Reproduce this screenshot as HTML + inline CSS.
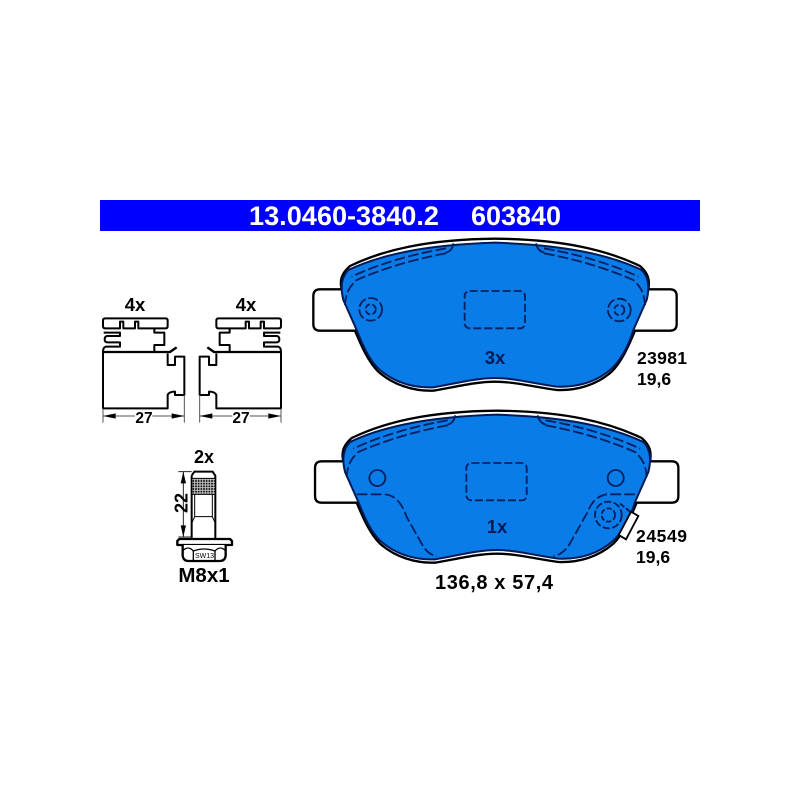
<!DOCTYPE html>
<html><head><meta charset="utf-8"><style>
html,body{margin:0;padding:0;background:#fff;width:800px;height:800px;overflow:hidden}
svg{display:block}
text{font-family:"Liberation Sans",sans-serif;font-weight:bold;fill:#000}
</style></head><body>
<svg width="800" height="800" viewBox="0 0 800 800" xmlns="http://www.w3.org/2000/svg">
<defs>
<g id="pad">
<path d="M125,178 C118,150 125,130 150,108 C250,60 380,28 585,26 C790,28 920,60 1020,108 C1045,130 1050,150 1045,178 H1110 Q1130,178 1130,198 V282 Q1130,302 1110,302 H1005 C985,350 965,395 935,425 C890,465 830,482 770,480 C700,470 640,455 585,455 C530,455 470,470 400,482 C340,484 280,465 235,425 C205,395 185,350 165,302 H60 Q40,302 40,282 V198 Q40,178 60,178 Z" fill="#fff" stroke="#000" stroke-width="7" stroke-linejoin="round"/>
<path d="M130,210 C120,170 125,140 145,120 C240,75 370,45 585,38 C800,45 930,75 1025,120 C1045,140 1050,170 1040,210 L1000,300 C985,350 960,395 930,420 C885,458 830,472 770,470 C700,460 640,444 585,444 C530,444 470,460 400,472 C340,474 285,458 240,420 C210,395 190,350 170,300 Z" fill="#0a7ce8" stroke="#001a55" stroke-width="6" stroke-linejoin="round"/>
<g fill="none" stroke="#00205f" stroke-width="5.500">
<path d="M460,40 Q458,62 438,68"/>
<path d="M708,40 Q712,62 732,68"/>
<path d="M438,55 C340,72 240,100 155,140" stroke-dasharray="32 10"/>
<path d="M732,55 C830,72 930,100 1015,140" stroke-dasharray="32 10"/>
<path d="M438,70 C340,88 250,115 170,150 C148,170 137,190 135,225" stroke-dasharray="32 10"/>
<path d="M732,70 C830,88 920,115 1000,150 C1022,170 1033,190 1035,225" stroke-dasharray="32 10"/>
<rect x="494" y="183" width="181" height="112" rx="15" stroke-dasharray="24 9"/>
</g>
</g>
<g id="clip" fill="none" stroke="#000" stroke-width="6" stroke-linejoin="round">
<path d="M30,85 H212 Q218,85 218,92 V108 Q218,115 212,115 H130 V95 H120 V115 H85 V95 H75 V115 H30 Q24,115 24,108 V92 Q24,85 30,85 Z"/>
<path d="M26,128 H75 V138 H38 Q29,138 29,148 Q29,157 38,157 H75 V170 H32 Q24,172 24,186"/>
<path d="M178,115 V128 H208 V165 H178 V185"/>
<path d="M24,186 V355 H218 V315 Q222,305 240,305 V315 H268 V200 H240 V225 H218 V190"/>
<path d="M24,186 H225 L245,172" stroke-width="7"/>
</g>
</defs>

<rect x="100" y="200" width="600" height="31" fill="#0000ff"/>
<text x="249" y="225" font-size="27" style="fill:#fff" textLength="190" lengthAdjust="spacingAndGlyphs">13.0460-3840.2</text>
<text x="471" y="225" font-size="27" style="fill:#fff" textLength="90" lengthAdjust="spacingAndGlyphs">603840</text>

<!-- pad 1 -->
<g transform="translate(300,230) scale(.33333)">
<use href="#pad"/>
<g fill="none" stroke="#00205f" stroke-width="5.500">
<circle cx="212" cy="238" r="34" stroke-dasharray="30 8"/>
<circle cx="212" cy="238" r="15" stroke-dasharray="18 7"/>
<circle cx="958" cy="240" r="34" stroke-dasharray="30 8"/>
<circle cx="958" cy="240" r="15" stroke-dasharray="18 7"/>
</g>
</g>
<text x="495" y="364" font-size="18.500" text-anchor="middle" style="fill:#001a55">3x</text>
<text x="637" y="364" font-size="17.500" textLength="50">23981</text>
<text x="637" y="385" font-size="17.500">19,6</text>

<!-- pad 2 -->
<g transform="translate(301.700,402) scale(.33333)">
<use href="#pad"/>
<path d="M988,329 L1010,342 L973,412 L951,399 Z" fill="#fff" stroke="#000" stroke-width="5.500"/>
<g fill="none" stroke="#00205f" stroke-width="5.500">
<circle cx="227" cy="228" r="24"/>
<circle cx="942" cy="228" r="24"/>
<path d="M165,277 H245 C285,277 305,315 315,345 L365,434 Q380,458 405,462" stroke-dasharray="32 10"/>
<path d="M1000,277 H915 C875,284 865,315 855,335 L805,424 Q785,458 755,462" stroke-dasharray="32 10"/>
<circle cx="920" cy="339" r="40" stroke-dasharray="22 7"/>
<circle cx="920" cy="339" r="20" stroke-dasharray="16 6"/>
<path d="M955,305 Q975,320 988,332" stroke-dasharray="16 6"/>
</g>
</g>
<text x="497" y="533" font-size="18.500" text-anchor="middle" style="fill:#001a55">1x</text>
<text x="636" y="542" font-size="17.500" textLength="51">24549</text>
<text x="636" y="563" font-size="17.500">19,6</text>
<text x="435" y="589" font-size="20" textLength="118">136,8 x 57,4</text>

<!-- clips -->
<g transform="translate(95,290) scale(.33333)">
<use href="#clip"/>
<g transform="translate(582,0) scale(-1,1)"><use href="#clip"/></g>
<g stroke="#555" stroke-width="3" fill="none">
<path d="M24,355 V398 M268,315 V398 M314,315 V398 M558,355 V398"/>
<path d="M24,378 H120 M172,378 H268 M314,378 H412 M464,378 H558"/>
</g>
<g fill="#000">
<path d="M24,378 L62,370 V386 Z M268,378 L230,370 V386 Z M314,378 L352,370 V386 Z M558,378 L520,370 V386 Z"/>
</g>
</g>
<text x="135" y="311" font-size="18.500" text-anchor="middle">4x</text>
<text x="246" y="311" font-size="18.500" text-anchor="middle">4x</text>
<text x="144" y="423" font-size="15.500" text-anchor="middle">27</text>
<text x="241" y="423" font-size="15.500" text-anchor="middle">27</text>

<!-- bolt -->
<g transform="translate(160,445) scale(.33333)">
<defs><pattern id="kn" width="8" height="8" patternUnits="userSpaceOnUse"><rect width="8" height="8" fill="#ccc"/><circle cx="4" cy="4" r="3" fill="#111"/></pattern></defs>
<g fill="none" stroke="#000" stroke-width="6" stroke-linejoin="round">
<path d="M95,92 L103,80 H158 L166,92 V282 M95,92 V282"/>
<rect x="97" y="101" width="68" height="46" fill="url(#kn)" stroke="none"/>
<path d="M95,100 H166 M95,148 H166" stroke-width="3"/>
<path d="M104,148 V215 L95,235 M157,148 V215 L166,235 M104,215 H157" stroke-width="3"/>
<path d="M58,282 H210 L216,288 V300 H52 V288 Z" fill="#fff" stroke-width="7"/>
<path d="M68,300 V332 Q70,348 85,348 H180 Q195,348 197,332 V300" fill="#fff" stroke-width="7"/>
<path d="M68,318 Q84,300 100,318 V348 M197,318 Q181,300 165,318 V348 M100,318 Q132,306 165,318" stroke-width="4"/>
</g>
<g stroke="#222" stroke-width="3" fill="none"><path d="M55,80 H95 M55,276 H95 M70,80 V276"/></g>
<path d="M70,80 L62,115 H78 Z M70,276 L62,241 H78 Z" fill="#000"/>
</g>
<text x="204.500" y="558" font-size="7" text-anchor="middle" style="font-weight:normal">SW13</text>
<text x="204" y="463" font-size="18" text-anchor="middle">2x</text>
<text x="204" y="582" font-size="20.500" text-anchor="middle">M8x1</text>
<text transform="translate(187.500,503) rotate(-90)" font-size="18" text-anchor="middle">22</text>
</svg>
</body></html>
